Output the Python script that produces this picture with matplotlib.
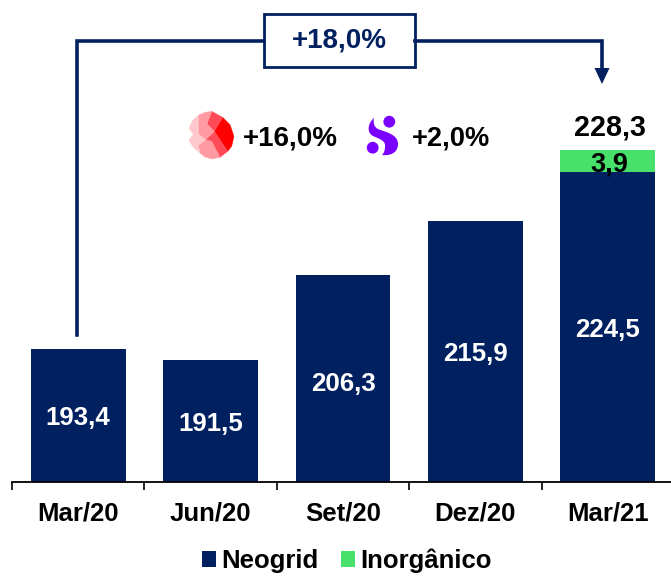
import matplotlib
matplotlib.use('Agg')
import matplotlib.pyplot as plt
from matplotlib.patches import Polygon, Circle, Rectangle, PathPatch
from matplotlib.path import Path

plt.rcParams['font.family'] = ['Liberation Sans', 'DejaVu Sans']
plt.rcParams['font.weight'] = 'bold'

categories = ['Mar/20', 'Jun/20', 'Set/20', 'Dez/20', 'Mar/21']
neogrid = [193.4, 191.5, 206.3, 215.9, 224.5]
inorganico = [0, 0, 0, 0, 3.9]
total_label = '228,3'
growth_total = '+18,0%'
growth_organic = '+16,0%'
growth_inorganic = '+2,0%'

NAVY = '#002060'
GREEN = '#47E06A'
W, H = 671, 576
PX_PER_UNIT = 5.69
BASE = 170

fig = plt.figure(figsize=(W / 100, H / 100), dpi=100)

# main chart, axes box lines up with the baseline in the picture
ax = fig.add_axes([12 / W, (H - 482) / H, (W - 12) / W, 482 / H])
x = list(range(len(categories)))
b1 = ax.bar(x, neogrid, width=0.716, color=NAVY, label='Neogrid')
b2 = ax.bar(x, inorganico, width=0.716, bottom=neogrid, color=GREEN, label='Inorgânico')
ax.set_xlim(-0.487, 4.477)
ax.set_ylim(BASE, BASE + 482 / PX_PER_UNIT)

for s in ['top', 'left', 'right']:
    ax.spines[s].set_visible(False)
ax.spines['bottom'].set_linewidth(1.3)
ax.set_yticks([])
ax.set_xticks(x)
ax.set_xticklabels(categories, fontsize=18.5)
ax.tick_params(axis='x', which='major', length=0, pad=14)
ax.set_xticks([i - 0.5 for i in range(len(categories))], minor=True)
ax.tick_params(axis='x', which='minor', length=6, width=1.2)

label_offsets = [-3, -3, -5, -3, -3]
for i, v in enumerate(neogrid):
    ax.annotate(f'{v:.1f}'.replace('.', ','), (i, BASE + (v - BASE) / 2), xytext=(0, label_offsets[i]),
                textcoords='offset pixels', ha='center', va='center', color='white', fontsize=18.6)
ax.annotate('3,9', (4, neogrid[4] + inorganico[4] / 2), xytext=(1, -4), textcoords='offset pixels',
            ha='center', va='center', fontsize=19.5, color='black')
ax.annotate(total_label, (4, neogrid[4] + inorganico[4]), xytext=(2, 8), textcoords='offset pixels',
            ha='center', va='bottom', fontsize=20.7, color='black')

leg = fig.legend(handles=[b1, b2], loc='lower center', bbox_to_anchor=(0.517, -0.035), ncol=2, frameon=False,
                 fontsize=18.5, handlelength=0.55, handleheight=0.55, handletextpad=0.2, columnspacing=0.85)

# overlay in pixel coordinates for the bracket and the logos
ov = fig.add_axes([0, 0, 1, 1], facecolor='none')
ov.set_xlim(0, W)
ov.set_ylim(H, 0)
ov.axis('off')

ov.plot([76.5, 76.5, 264], [335, 41, 41], color=NAVY, lw=2.6, solid_joinstyle='miter')
ov.plot([415, 602, 602], [41, 41, 70], color=NAVY, lw=2.6, solid_joinstyle='miter')
ov.add_patch(Polygon([(594.5, 68), (609.5, 68), (602, 84)], color=NAVY, lw=0))
ov.add_patch(Rectangle((264, 14), 151, 53, fc='white', ec=NAVY, lw=2.0))
ov.text(339.5, 41, growth_total, ha='center', va='center', fontsize=20, color=NAVY)


def logo_px(pts):
    return [(185 + a / 3, 108 + b / 3) for a, b in pts]


# red logo facets
facets = [
    ([(113, 28), (135, 50), (147, 85), (140, 115), (128, 130), (88, 70)], '#FF0000'),
    ([(80, 10), (113, 28), (88, 70), (66, 48)], '#FF4A58'),
    ([(88, 70), (128, 130), (105, 148), (80, 100), (62, 95)], '#FF4A58'),
    ([(40, 22), (60, 13), (80, 10), (66, 48), (40, 60)], '#FF9AA2'),
    ([(40, 60), (66, 48), (88, 70), (62, 95), (40, 78)], '#FF9AA2'),
    ([(62, 95), (80, 100), (105, 148), (82, 153), (60, 147), (45, 135), (40, 112)], '#FF9AA2'),
    ([(12, 62), (22, 38), (40, 22), (40, 60), (40, 78), (25, 78)], '#FFC8CC'),
    ([(25, 78), (40, 78), (62, 95), (40, 112), (45, 135), (25, 118), (12, 98)], '#FFC8CC'),
]
for pts, col in facets:
    ov.add_patch(Polygon(logo_px(pts), fc=col, ec=col, lw=0.3))
ov.text(243, 138, growth_organic, ha='left', va='center', fontsize=20, color='black')

# purple logo
PURPLE = '#7A00FF'
ov.add_patch(Circle((389.3, 121.7), 5.9, color=PURPLE, lw=0))
ov.add_patch(Circle((372.7, 147.7), 5.9, color=PURPLE, lw=0))
verts = [(374, 118), (367, 124), (367, 133), (373, 136), (380, 139), (386, 141), (385, 147), (385, 150), (384, 153), (382, 155),
         (390, 156), (398, 153), (398, 144), (398, 134), (385, 132), (378, 129), (374, 127), (373, 123), (374, 118)]
codes = [Path.MOVETO] + [Path.CURVE4] * 18
ov.add_patch(PathPatch(Path(verts, codes), fc=PURPLE, ec='none'))
ov.text(412, 138, growth_inorganic, ha='left', va='center', fontsize=19.6, color='black')

fig.savefig('out.png', dpi=100)
